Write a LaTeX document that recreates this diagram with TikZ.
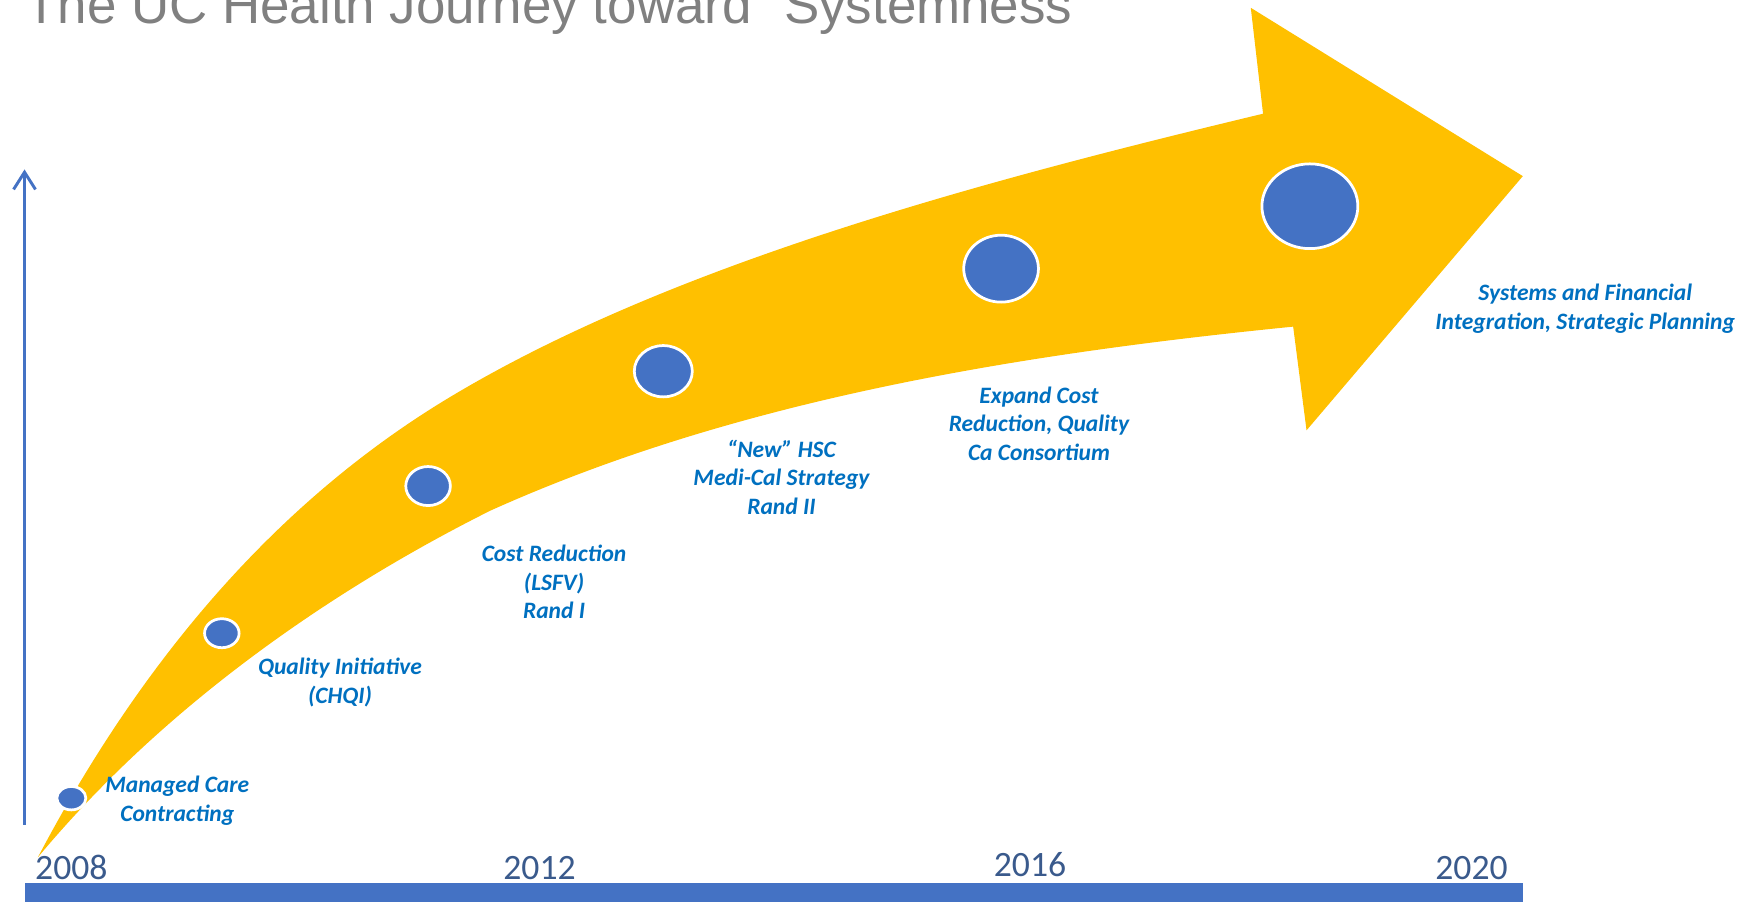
\documentclass[tikz,border=0pt]{standalone}
\usepackage{fontspec}
\setmainfont{Liberation Sans}
\newfontfamily\calibri{Carlito}
\usetikzlibrary{arrows.meta,shapes.geometric}

\definecolor{arrowgold}{HTML}{FFC000}
\definecolor{dotblue}{HTML}{4472C4}
\definecolor{labelblue}{HTML}{0070C0}
\definecolor{yearblue}{HTML}{3A5A8C}
\definecolor{titlegray}{HTML}{808080}

\tikzset{
	milestone/.style={ellipse,fill=dotblue,draw=white,line width=0.7pt,inner sep=0pt},
	event/.style={text=labelblue,align=center,inner sep=0pt,font=\calibri\bfseries\itshape\fontsize{6}{7.3}\selectfont},
	yearlabel/.style={text=yearblue,inner sep=0pt,anchor=base,font=\calibri\fontsize{9.1}{11}\selectfont}
}

\begin{document}
\begin{tikzpicture}[x=0.01cm,y=-0.01cm]
		\useasboundingbox (0,0) rectangle (1568,809);
		\clip (0,0) rectangle (1568,809);

		\node[anchor=base west,inner sep=0pt,text=titlegray,font=\fontsize{13.5}{16}\selectfont] (title) at (22,21) {The UC Health Journey toward “Systemness”};

		\fill[arrowgold] (34,769) .. controls (124,598) and (244,452) .. (404,356)
			.. controls (604,236) and (883,162) .. (1133,102)
			-- (1122,7) -- (1366,158) -- (1172,386) -- (1160,293)
			.. controls (910,318) and (660,359) .. (440,458)
			.. controls (310,523) and (154,625) .. (34,769) -- cycle;

		\node[milestone,minimum width=0.26cm,minimum height=0.21cm] (m1) at (64,716) {};
		\node[milestone,minimum width=0.31cm,minimum height=0.26cm] (m2) at (199,568) {};
		\node[milestone,minimum width=0.40cm,minimum height=0.35cm] (m3) at (384,436) {};
		\node[milestone,minimum width=0.52cm,minimum height=0.46cm] (m4) at (595,333) {};
		\node[milestone,minimum width=0.67cm,minimum height=0.60cm] (m5) at (898,241) {};
		\node[milestone,minimum width=0.86cm,minimum height=0.76cm] (m6) at (1175,185) {};

		\node[event] (e1) at (159,718) {Managed Care\\Contracting};
		\node[event] (e2) at (305,612) {Quality Initiative\\(CHQI)};
		\node[event] (e3) at (497,522) {Cost Reduction\\(LSFV)\\Rand I};
		\node[event] (e4) at (701,428) {“New” HSC\\Medi-Cal Strategy\\Rand II};
		\node[event] (e5) at (932,380) {Expand Cost\\Reduction, Quality\\Ca Consortium};
		\node[event] (e6) at (1422,277) {Systems and Financial\\Integration, Strategic Planning};

		\coordinate (axisfoot) at (22,740);
		\coordinate (axishead) at (22,152);
		\draw[dotblue,line width=0.75pt,-{Straight Barb[length=4.4pt,width=5.6pt]}] (axisfoot) -- (axishead);

		\node[yearlabel] (y2008) at (64,789) {2008};
		\node[yearlabel] (y2012) at (484,789) {2012};
		\node[yearlabel] (y2016) at (924,786) {2016};
		\node[yearlabel] (y2020) at (1320,789) {2020};

		\fill[dotblue] (22,792) rectangle (1366,809);
\end{tikzpicture}
\end{document}
